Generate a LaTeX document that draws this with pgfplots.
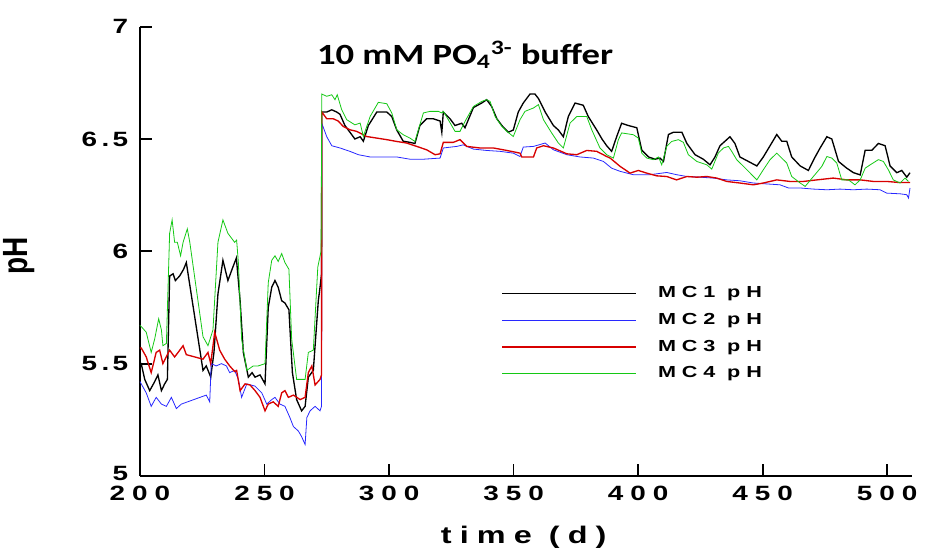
\documentclass[border=0pt]{standalone}
\usepackage{fontspec}
\setmainfont{Liberation Sans}
\newfontfamily\tickfont[LetterSpace=25]{Liberation Sans}
\newfontfamily\ytickfont[LetterSpace=12]{Liberation Sans}
\newfontfamily\legfont[LetterSpace=27]{Liberation Sans}
\newfontfamily\labfont[LetterSpace=25]{Liberation Sans}
\newfontfamily\calfont{Carlito}
\usepackage{pgfplots}
\pgfplotsset{compat=1.18}
\definecolor{mcblack}{RGB}{0,0,0}
\definecolor{mcblue}{RGB}{40,40,255}
\definecolor{mcred}{RGB}{215,0,0}
\definecolor{mcgreen}{RGB}{20,200,20}
\begin{document}
\begin{tikzpicture}
\begin{axis}[
  scale only axis, width=579pt, height=337pt,
  at={(0,0)}, anchor=south west,
  xmin=200, xmax=510, ymin=5, ymax=7,
  axis x line*=bottom, axis y line*=left,
  axis line style={line width=1.4pt, -},
  tick align=inside, major tick length=9pt,
  tick style={line width=1.4pt, black},
  xtick={200,250,300,350,400,450,500},
  xticklabels={200,250,300,350,400,450,500},
  ytick={5,5.5,6,6.5,7},
  yticklabels={\raisebox{4pt}{5},5\hspace{2.5pt}.5,6,6\hspace{2.5pt}.5,7},
  xticklabel style={font=\tickfont\bfseries\fontsize{15.5}{15.5}\selectfont, xscale=1.35, yshift=-4pt},
  yticklabel style={font=\ytickfont\bfseries\fontsize{15.5}{15.5}\selectfont, xscale=1.35, xshift=-3pt},
  clip=false,
  legend style={at={(rel axis cs:0.463,0.433)}, anchor=north west, draw=none, fill=none,
    font=\legfont\bfseries\fontsize{12}{12}\selectfont, row sep=6pt, column sep=15pt,
    nodes={inner sep=1pt, text height=9pt, text depth=3pt, xscale=1.35}},
  legend cell align=left,
  legend image code/.code={\draw[#1] (0pt,0pt) -- (100pt,0pt);},
]
% MC1 (black)
\addplot[mcblack, line width=1pt] coordinates {
(200,5.50)(200.5,5.50)(201.9,5.43)(203.9,5.38)(205.9,5.42)(207.2,5.45)(208.6,5.38)(209.9,5.41)(211.0,5.43)
(211.9,5.89)(213.3,5.90)(214.2,5.87)(215.9,5.89)(217.5,5.92)(218.6,5.95)(225.3,5.47)(226.6,5.49)(228.4,5.44)
(229.7,5.55)(231.3,5.81)(233.3,5.96)(235.3,5.87)(237.3,5.93)(238.7,5.97)(240.2,5.78)(241.5,5.55)(243.5,5.44)
(245.0,5.46)(246.2,5.44)(248.2,5.45)(250.2,5.41)(251.5,5.75)(252.9,5.84)(254.2,5.87)(255.5,5.84)(256.9,5.78)
(258.2,5.77)(259.8,5.74)(261.2,5.46)(262.9,5.34)(264.9,5.29)(266.3,5.31)(267.6,5.44)(269.6,5.47)(271.6,5.78)
(272.3,5.84)(272.9,5.90)(273.0,6.62)(275.0,6.62)(277.0,6.63)(279.0,6.62)(280.3,6.61)(282.3,6.56)(284.3,6.53)
(286.3,6.50)(288.4,6.51)(289.7,6.49)(291.7,6.56)(295.1,6.62)(299.1,6.62)(301.1,6.60)(303.1,6.54)(305.7,6.49)
(308.4,6.485)(310.4,6.48)(312.4,6.56)(315.1,6.59)(317.8,6.59)(320.5,6.58)(321.2,6.53)(321.8,6.62)(324.5,6.59)
(326.5,6.56)(329.2,6.57)(330.5,6.55)(333.9,6.64)(337.2,6.66)(339.2,6.675)(341.2,6.645)(343.3,6.59)(345.3,6.56)
(347.9,6.53)(349.9,6.54)(351.9,6.62)(353.9,6.66)(356.6,6.70)(358.6,6.70)(360.0,6.68)(362.7,6.62)(366.0,6.56)
(368.0,6.54)(370.0,6.51)(372.0,6.60)(374.7,6.66)(378.0,6.65)(380.0,6.60)(383.4,6.54)(385.5,6.50)(387.4,6.47)
(389.4,6.445)(391.4,6.51)(393.4,6.57)(396.1,6.56)(399.5,6.55)(401.5,6.45)(404.2,6.42)(406.8,6.41)(408.8,6.415)
(410.2,6.40)(412.2,6.52)(414.2,6.53)(417.6,6.53)(419.6,6.48)(422.9,6.43)(426.2,6.41)(428.9,6.385)(430.9,6.42)
(432.9,6.47)(434.9,6.49)(436.9,6.51)(438.9,6.48)(440.9,6.42)(444.3,6.40)(447.7,6.38)(450.3,6.42)(453.0,6.47)
(455.7,6.52)(457.7,6.49)(459.7,6.49)(461.7,6.42)(465.1,6.38)(468.4,6.36)(471.1,6.42)(473.1,6.46)(475.8,6.51)
(477.8,6.50)(480.5,6.40)(483.8,6.37)(486.5,6.35)(489.2,6.34)(491.2,6.45)(493.9,6.45)(496.5,6.48)(499.2,6.47)
(501.2,6.38)(503.9,6.35)(505.9,6.36)(507.9,6.33)(509.2,6.35)
};
% MC2 (blue)
\addplot[mcblue, line width=0.6pt] coordinates {
(200,5.42)(200.5,5.41)(202.5,5.37)(204.5,5.31)(206.5,5.35)(208.6,5.32)(210.6,5.31)(212.6,5.35)(214.6,5.30)
(216.6,5.32)(226.6,5.36)(228.0,5.33)(228.6,5.50)(230.6,5.49)(232.7,5.50)(234.7,5.49)(236.0,5.46)(238.0,5.47)
(239.5,5.43)(240.8,5.35)(242.9,5.41)(246.2,5.40)(248.9,5.37)(250.9,5.32)(252.9,5.34)(254.2,5.35)(256.2,5.32)
(258.2,5.31)(260.2,5.26)(261.6,5.22)(263.6,5.20)(264.9,5.175)(266.3,5.14)(267.0,5.26)(268.3,5.29)(270.3,5.31)
(272.3,5.29)(272.9,5.31)(273.0,6.57)(275.0,6.51)(277.0,6.47)(280.3,6.46)(284.3,6.445)(287.7,6.43)(292.4,6.42)
(297.7,6.42)(303.1,6.42)(308.4,6.41)(313.8,6.41)(320.5,6.415)(321.8,6.46)(327.2,6.467)(329.8,6.474)(333.9,6.455)
(339.2,6.449)(344.6,6.445)(349.9,6.437)(352.6,6.422)(353.9,6.464)(358.0,6.467)(362.7,6.482)(366.0,6.452)
(371.4,6.43)(376.7,6.42)(382.1,6.415)(386.1,6.40)(389.4,6.37)(392.8,6.356)(398.1,6.341)(404.8,6.341)(411.5,6.351)
(415.5,6.341)(419.6,6.333)(424.9,6.33)(430.2,6.326)(435.6,6.318)(440.9,6.314)(446.3,6.304)(451.7,6.30)
(457.0,6.296)(460.4,6.282)(465.1,6.282)(470.4,6.277)(475.8,6.274)(481.1,6.277)(486.5,6.274)(491.8,6.277)
(497.2,6.274)(499.9,6.259)(505.2,6.256)(507.9,6.252)(508.6,6.237)(509.2,6.282)
};
% MC3 (red)
\addplot[mcred, line width=1pt] coordinates {
(200,5.57)(200.5,5.57)(202.5,5.53)(204.5,5.46)(206.5,5.55)(207.9,5.56)(209.2,5.50)(211.9,5.56)(213.9,5.53)
(215.3,5.55)(217.3,5.58)(218.6,5.54)(225.3,5.52)(227.3,5.55)(228.4,5.50)(230.0,5.64)(232.0,5.56)(234.0,5.52)
(236.0,5.49)(238.0,5.465)(238.8,5.47)(240.2,5.38)(242.2,5.41)(244.2,5.405)(246.2,5.38)(248.2,5.35)(250.2,5.29)
(251.5,5.32)(253.5,5.33)(255.5,5.31)(256.9,5.37)(258.2,5.38)(259.6,5.35)(261.6,5.36)(264.3,5.34)(266.3,5.35)
(267.6,5.46)(269.0,5.49)(270.3,5.405)(272.3,5.43)(272.9,5.45)(273.0,6.62)(275.0,6.59)(277.6,6.59)(279.6,6.58)
(281.6,6.556)(284.3,6.541)(287.0,6.534)(291.0,6.511)(295.1,6.504)(299.1,6.497)(303.1,6.489)(307.1,6.482)
(311.1,6.467)(315.1,6.452)(318.5,6.43)(320.5,6.434)(321.8,6.485)(325.8,6.485)(328.5,6.497)(331.2,6.467)
(336.5,6.46)(341.9,6.46)(347.3,6.449)(352.6,6.437)(353.3,6.42)(358.0,6.42)(359.3,6.46)(362.0,6.47)(366.0,6.46)
(371.4,6.434)(375.4,6.43)(379.4,6.449)(383.4,6.445)(387.4,6.422)(388.8,6.415)(392.8,6.378)(396.8,6.348)
(400.1,6.36)(403.5,6.348)(407.5,6.336)(411.5,6.333)(415.5,6.318)(419.6,6.333)(423.6,6.33)(427.6,6.333)
(431.6,6.326)(435.6,6.311)(440.9,6.304)(446.3,6.296)(450.3,6.304)(455.7,6.318)(461.0,6.311)(466.4,6.311)
(471.8,6.318)(478.4,6.326)(483.8,6.318)(489.2,6.318)(494.5,6.311)(499.9,6.311)(505.2,6.306)(509.2,6.306)
};
% MC4 (green)
\addplot[mcgreen, line width=0.6pt] coordinates {
(200,5.67)(200.5,5.665)(202.5,5.64)(204.5,5.55)(205.9,5.61)(207.5,5.70)(208.6,5.65)(209.2,5.58)(210.6,5.59)
(211.9,6.08)(212.9,6.14)(213.9,6.04)(215.0,6.04)(216.3,5.98)(217.3,6.04)(219.0,6.10)(220.0,6.04)(225.3,5.62)
(227.3,5.58)(229.3,5.65)(231.3,6.04)(233.3,6.14)(235.3,6.08)(238.0,6.04)(238.8,6.05)(239.5,5.95)(240.8,5.61)
(242.9,5.47)(245.5,5.49)(247.5,5.49)(250.2,5.50)(251.5,5.86)(252.9,5.96)(254.2,5.98)(255.5,5.955)(256.9,5.99)
(258.2,5.95)(259.8,5.92)(260.9,5.61)(262.9,5.43)(266.3,5.43)(267.6,5.55)(269.6,5.56)(271.4,5.93)(272.7,6.00)
(273.0,6.70)(275.0,6.69)(277.0,6.697)(278.3,6.675)(279.2,6.697)(281.0,6.63)(283.0,6.586)(286.3,6.563)
(288.4,6.571)(289.7,6.511)(292.4,6.60)(295.7,6.663)(299.1,6.657)(301.1,6.616)(303.1,6.541)(305.7,6.519)
(308.4,6.504)(310.4,6.489)(313.8,6.616)(316.5,6.623)(319.8,6.623)(321.2,6.616)(321.8,6.623)(323.8,6.586)
(326.5,6.534)(328.5,6.534)(330.5,6.578)(333.9,6.645)(337.2,6.667)(339.2,6.675)(340.6,6.667)(342.6,6.60)
(345.3,6.556)(347.3,6.534)(349.9,6.511)(352.6,6.586)(354.6,6.623)(358.0,6.638)(360.0,6.653)(362.0,6.586)
(365.3,6.527)(368.0,6.482)(370.0,6.46)(372.7,6.571)(375.4,6.60)(379.4,6.60)(381.4,6.541)(384.7,6.46)
(387.4,6.43)(390.1,6.415)(392.1,6.497)(393.4,6.527)(398.1,6.519)(400.1,6.504)(401.5,6.437)(403.5,6.415)
(406.1,6.408)(408.2,6.42)(409.5,6.385)(411.5,6.467)(413.5,6.489)(416.2,6.497)(418.2,6.485)(420.2,6.43)
(423.6,6.40)(427.6,6.385)(429.6,6.366)(432.2,6.437)(434.3,6.46)(436.3,6.467)(437.6,6.445)(439.6,6.408)
(443.7,6.363)(447.7,6.318)(450.3,6.363)(453.0,6.408)(455.7,6.437)(457.7,6.415)(459.7,6.393)(461.7,6.333)
(465.1,6.304)(467.1,6.289)(470.4,6.333)(473.8,6.378)(475.8,6.422)(477.8,6.415)(479.8,6.393)(481.8,6.318)
(484.5,6.318)(487.1,6.296)(489.2,6.318)(491.2,6.37)(493.2,6.385)(496.5,6.408)(498.5,6.40)(500.5,6.363)
(502.5,6.318)(505.2,6.304)(507.2,6.326)(508.6,6.311)
};
\legend{MC1 pH, MC2 pH, MC3 pH, MC4 pH}
\node[inner sep=0pt, font=\calfont\bfseries\fontsize{22}{22}\selectfont, xscale=1.25] at (rel axis cs:0.421,0.937) {10 mM PO\textsubscript{4}\textsuperscript{3-} buffer};
\node[inner sep=0pt, font=\bfseries\fontsize{21}{21}\selectfont, xscale=1.25, rotate=90] at (rel axis cs:-0.156,0.49) {pH};
\node[inner sep=0pt, font=\labfont\bfseries\fontsize{18}{18}\selectfont, xscale=1.35] at (rel axis cs:0.497,-0.137) {time (d)};
\end{axis}
\path (-105pt,-59.25pt) rectangle (594.75pt,357pt);
\end{tikzpicture}
\end{document}
